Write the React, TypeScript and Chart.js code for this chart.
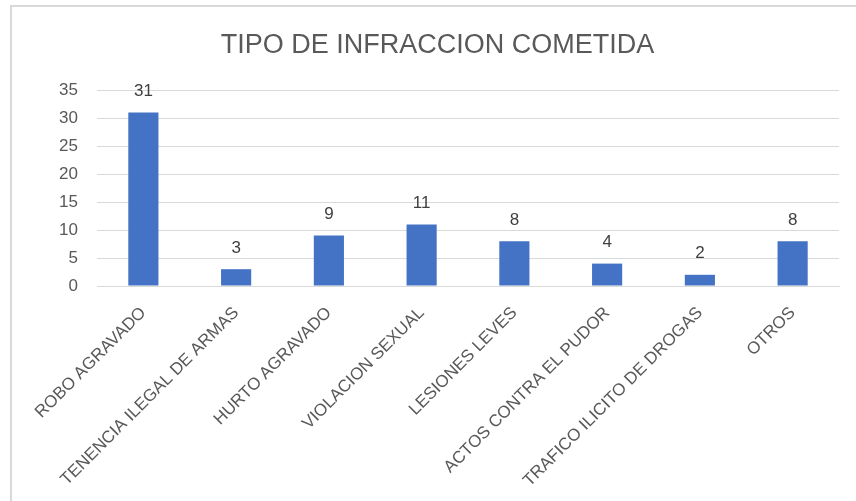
import React, { useEffect, useRef } from "react";
import { Chart, registerables } from "chart.js";

Chart.register(...registerables);

const TITLE = "TIPO DE INFRACCION COMETIDA";
const categories = [
  "ROBO AGRAVADO",
  "TENENCIA ILEGAL DE ARMAS",
  "HURTO AGRAVADO",
  "VIOLACION SEXUAL",
  "LESIONES LEVES",
  "ACTOS CONTRA EL PUDOR",
  "TRAFICO ILICITO DE DROGAS",
  "OTROS",
];
const values = [31, 3, 9, 11, 8, 4, 2, 8];
const yMin = 0;
const yMax = 35;
const yStep = 5;

const FONT = "'Liberation Sans', Arial, sans-serif";

const valueLabels = {
  id: "valueLabels",
  afterDatasetsDraw(chart: any) {
    const ctx = chart.ctx;
    const meta = chart.getDatasetMeta(0);
    ctx.save();
    ctx.font = `17px ${FONT}`;
    ctx.fillStyle = "#404040";
    ctx.textAlign = "center";
    ctx.textBaseline = "middle";
    meta.data.forEach((bar: any, i: number) => {
      ctx.fillText(String(values[i]), bar.x, bar.y - 21);
    });
    ctx.restore();
  },
};

export default function App() {
  const ref = useRef<HTMLCanvasElement>(null);
  useEffect(() => {
    if (!ref.current) return;
    const chart = new Chart(ref.current, {
      type: "bar",
      data: {
        labels: categories,
        datasets: [
          {
            data: values,
            backgroundColor: "#4472C4",
            borderWidth: 0,
            categoryPercentage: 1,
            barPercentage: 0.325,
          },
        ],
      },
      options: {
        responsive: false,
        animation: false,
        layout: { padding: { left: 36, right: 17, top: 0, bottom: 0 } },
        plugins: {
          legend: { display: false },
          tooltip: { enabled: false },
          title: {
            display: true,
            text: TITLE,
            color: "#595959",
            font: { family: FONT, size: 27, weight: "normal" },
            padding: { top: 29, bottom: 28.6 },
          },
        },
        scales: {
          x: {
            grid: { display: false },
            border: { display: true, color: "#d9d9d9", width: 1 },
            ticks: {
              autoSkip: false,
              maxRotation: 45,
              minRotation: 45,
              color: "#595959",
              padding: 9,
              font: { family: FONT, size: 17 },
            },
            afterFit(scale: any) {
              scale.height = 215;
            },
          },
          y: {
            min: yMin,
            max: yMax,
            grid: { color: "#d9d9d9", lineWidth: 1, drawTicks: false },
            border: { display: false },
            ticks: {
              stepSize: yStep,
              color: "#595959",
              padding: 19,
              font: { family: FONT, size: 17 },
            },
            afterFit(scale: any) {
              scale.width = 61;
            },
          },
        },
      },
      plugins: [valueLabels],
    });
    return () => chart.destroy();
  }, []);

  return (
    <div style={{ position: "fixed", left: 0, top: 0, width: 856, height: 501, background: "#fff" }}>
      <div
        style={{
          position: "absolute",
          left: 10,
          top: 5,
          right: 0,
          bottom: 0,
          borderTop: "2px solid #d9d9d9",
          borderLeft: "2px solid #d9d9d9",
        }}
      />
      <canvas ref={ref} width={856} height={501} style={{ position: "absolute", left: 0, top: 0 }} />
    </div>
  );
}
